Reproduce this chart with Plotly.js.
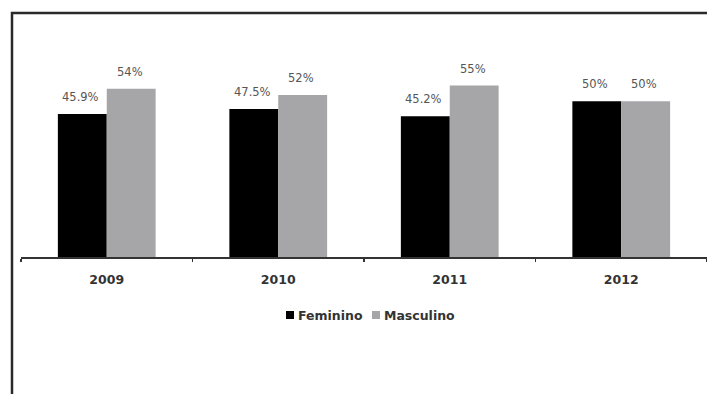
<!DOCTYPE html>
<html>
<head>
<meta charset="utf-8">
<script src="https://cdn.plot.ly/plotly-3.0.1.min.js"></script>
<style>
  html, body { margin: 0; padding: 0; background: #fff; }
  #chart { width: 707px; height: 394px; }
</style>
</head>
<body>
<div id="chart"></div>
<script>
// Share of students by sex, per year
const years = ['2009', '2010', '2011', '2012'];
const feminino = [45.9, 47.5, 45.2, 50];
const masculino = [54, 52, 55, 50];
const seriesNames = ['Feminino', 'Masculino'];

const colors = ['#000000', '#a6a6a8'];

// plot area geometry in pixels
const W = 707, H = 394;
const M = { l: 21, r: 0, t: 70, b: 137 };
const PW = W - M.l - M.r, PH = H - M.t - M.b;
const px = x => (x - M.l) / PW;          // pixel x -> paper x
const py = y => (H - M.b - y) / PH;      // pixel y -> paper y

const fmt = v => (Number.isInteger(v) ? v.toFixed(0) : v.toFixed(1)) + '%';

const traces = [feminino, masculino].map((vals, i) => ({
  type: 'bar',
  name: seriesNames[i],
  x: years,
  y: vals,
  marker: { color: colors[i], line: { width: 0 } },
  hoverinfo: 'skip',
  showlegend: false
}));

// value labels above each bar (x given as category index)
const valueFont = { family: 'DejaVu Sans', size: 11.5, color: '#555555' };
const annotations = [];
[feminino, masculino].forEach((vals, i) => {
  vals.forEach((v, j) => {
    annotations.push({
      x: j, y: v, xref: 'x', yref: 'y',
      text: fmt(v), showarrow: false,
      xshift: i === 0 ? -26 : 23, yshift: 17,
      yanchor: 'middle', xanchor: 'center',
      font: valueFont
    });
  });
});

// legend
const legendFont = { family: 'DejaVu Sans', size: 12.5, color: '#333333', weight: 'bold' };
const legendItems = [
  { name: seriesNames[0], sq: 286, text: 296 },
  { name: seriesNames[1], sq: 372, text: 382 }
];
const shapes = [
  // outer frame
  {
    type: 'rect', xref: 'paper', yref: 'paper',
    x0: px(12), x1: px(730), y0: py(420), y1: py(13),
    line: { color: '#2a2a2a', width: 2.5 }, fillcolor: 'rgba(0,0,0,0)'
  }
];
legendItems.forEach((it, i) => {
  shapes.push({
    type: 'rect', xref: 'paper', yref: 'paper',
    x0: px(it.sq), x1: px(it.sq + 8), y0: py(319), y1: py(311),
    line: { width: 0 }, fillcolor: colors[i]
  });
  annotations.push({
    xref: 'paper', yref: 'paper', x: px(it.text), y: py(315),
    xanchor: 'left', yanchor: 'middle', showarrow: false,
    text: '<b>' + it.name + '</b>', font: legendFont
  });
});

const layout = {
  width: W, height: H,
  margin: M,
  paper_bgcolor: '#ffffff',
  plot_bgcolor: '#ffffff',
  barmode: 'group',
  bargap: 0.43,
  bargroupgap: 0,
  showlegend: false,
  xaxis: {
    type: 'category',
    range: [-0.5, years.length - 0.5],
    showline: true, linecolor: '#333333', linewidth: 1.5,
    ticks: 'outside', tickson: 'boundaries', ticklen: 3,
    tickcolor: '#333333', tickwidth: 1.5,
    ticklabelstandoff: 10,
    tickfont: { family: 'DejaVu Sans', size: 12.5, color: '#333333', weight: 'bold' },
    showgrid: false, zeroline: false, fixedrange: true
  },
  yaxis: {
    range: [0, 60], visible: false, showgrid: false, zeroline: false, fixedrange: true
  },
  shapes: shapes,
  annotations: annotations
};

Plotly.newPlot('chart', traces, layout, { displayModeBar: false, staticPlot: true });
</script>
</body>
</html>
